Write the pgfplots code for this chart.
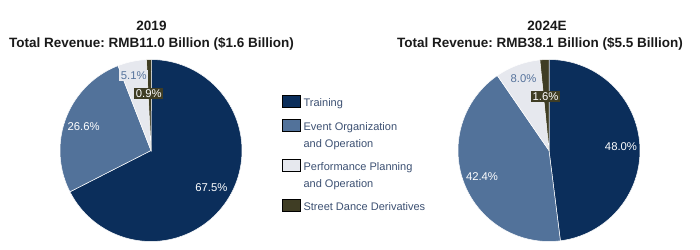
\documentclass[border=0pt]{standalone}
\usepackage{pgfplots}
\pgfplotsset{compat=1.18}
\usepackage{fontspec}
\setmainfont{Liberation Sans}
\frenchspacing
\definecolor{train}{HTML}{0B2E5B}
\definecolor{event}{HTML}{52729A}
\definecolor{perf}{HTML}{E6E8EE}
\definecolor{street}{HTML}{3F3D24}
\definecolor{legtext}{HTML}{3C5072}
\definecolor{lbl}{HTML}{56739C}
\definecolor{ttl}{HTML}{1A1A1A}
\pgfplotsset{
  pie/.style={hide axis, scale only axis, width=182bp, height=182bp,
    xmin=-1, xmax=1, ymin=-1, ymax=1, clip=false},
  slice/.style={fill=#1, draw=white, line width=0.5bp, forget plot,
    data cs=polar, samples=90},
}
\tikzset{
  pct/.style={font=\fontsize{11.3bp}{13bp}\selectfont, text=white, inner sep=1.5bp},
}
\newcommand{\legtab}[1]{\begin{tabular}[t]{@{}l@{}}#1\end{tabular}}
\begin{document}
\begin{tikzpicture}
\path[use as bounding box] (0,0) rectangle (700bp,250bp);
% ---------- 2019 ----------
\begin{axis}[pie, at={(60bp,8.5bp)}, anchor=south west,
  legend image code/.code={\fill[#1] (0bp,-0.5bp) rectangle (17.5bp,11.5bp);},
  legend style={at={(1.2198,0.8049)}, anchor=north west, draw=none, fill=none,
    inner sep=0pt, row sep=7bp, column sep=3.5bp,
    font=\fontsize{11bp}{16.5bp}\selectfont,
    cells={anchor=base west},
    nodes={inner sep=0pt, text depth=, text height=, text=legtext}},
]
\addplot[slice=train,  domain=90-3.6*67.5:90] ({x},{1}) -- (axis cs:0,0) -- cycle;
\addplot[slice=event,  domain=90-3.6*(67.5+26.6):90-3.6*67.5] ({x},{1}) -- (axis cs:0,0) -- cycle;
\addplot[slice=perf,   domain=90-3.6*(67.5+26.6+5.1):90-3.6*(67.5+26.6)] ({x},{1}) -- (axis cs:0,0) -- cycle;
\addplot[slice=street, domain=90-3.6*(67.5+26.6+5.1+0.9):90-3.6*(67.5+26.6+5.1)] ({x},{1}) -- (axis cs:0,0) -- cycle;
\addlegendimage{fill=train}  \addlegendentry{\legtab{Training}}
\addlegendimage{fill=event}  \addlegendentry{\legtab{Event Organization\\and Operation}}
\addlegendimage{fill=perf}   \addlegendentry{\legtab{Performance Planning\\and Operation}}
\addlegendimage{fill=street} \addlegendentry{\legtab{Street Dance Derivatives}}
\node[pct] at (axis cs:0.664,-0.412) {67.5\%};
\node[pct] at (axis cs:-0.740,0.262) {26.6\%};
\node[pct, text=lbl, fill=perf] at (axis cs:-0.190,0.825) {5.1\%};
\node[pct, fill=street] at (axis cs:-0.025,0.624) {0.9\%};
\end{axis}
% ---------- 2024E ----------
\begin{axis}[pie, at={(458bp,8.5bp)}, anchor=south west]
\addplot[slice=train,  domain=90-3.6*48.0:90] ({x},{1}) -- (axis cs:0,0) -- cycle;
\addplot[slice=event,  domain=90-3.6*(48.0+42.4):90-3.6*48.0] ({x},{1}) -- (axis cs:0,0) -- cycle;
\addplot[slice=perf,   domain=90-3.6*(48.0+42.4+8.0):90-3.6*(48.0+42.4)] ({x},{1}) -- (axis cs:0,0) -- cycle;
\addplot[slice=street, domain=90-3.6*(48.0+42.4+8.0+1.6):90-3.6*(48.0+42.4+8.0)] ({x},{1}) -- (axis cs:0,0) -- cycle;
\node[pct] at (axis cs:0.791,0.042) {48.0\%};
\node[pct] at (axis cs:-0.736,-0.288) {42.4\%};
\node[pct, text=lbl] at (axis cs:-0.280,0.789) {8.0\%};
\node[pct, fill=street] at (axis cs:-0.038,0.591) {1.6\%};
\end{axis}
% ---------- titles ----------
\begin{scope}[every node/.style={anchor=base, text=ttl, font=\bfseries\fontsize{13.5bp}{16bp}\selectfont, inner sep=0pt}]
\node at (151.5bp,219bp) {2019};
\node at (151.5bp,202bp) {Total Revenue: RMB11.0 Billion (\$1.6 Billion)};
\node at (547bp,219bp) {2024E};
\node at (540bp,202bp) {Total Revenue: RMB38.1 Billion (\$5.5 Billion)};
\end{scope}
\end{tikzpicture}
\end{document}
